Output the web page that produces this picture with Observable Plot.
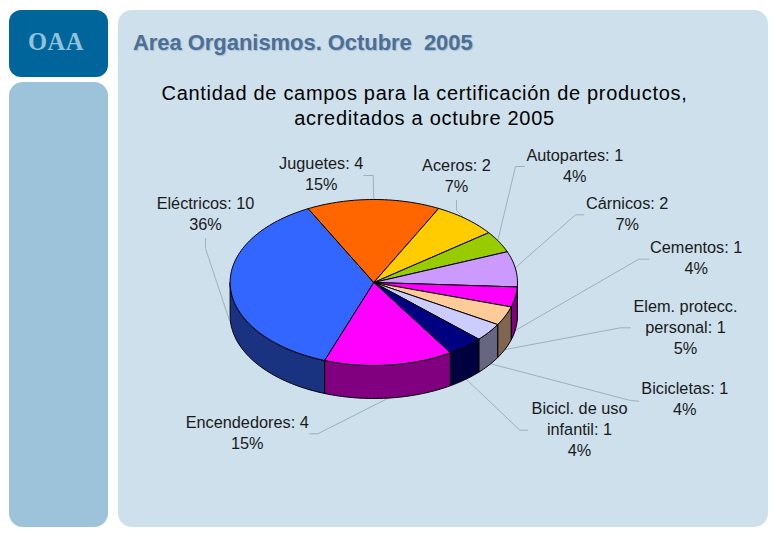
<!DOCTYPE html>
<html>
<head>
<meta charset="utf-8">
<script src="https://cdn.jsdelivr.net/npm/d3@7"></script>
<script src="https://cdn.jsdelivr.net/npm/@observablehq/plot@0.6"></script>
<style>
  html, body { margin: 0; padding: 0; background: #fff; }
  #page { position: relative; width: 780px; height: 540px; overflow: hidden; background: #fff; }
  .panel { position: absolute; }
  #brand { left: 9px; top: 10px; width: 99px; height: 67px; border-radius: 12px; background: #00659a; }
  #side { left: 9px; top: 82px; width: 99px; height: 445px; border-radius: 14px; background: #9cc3d9; }
  #main { left: 118px; top: 10px; width: 650px; height: 517px; border-radius: 14px; background: #cde0ec; }
  .txt { position: absolute; white-space: pre; }
  #oaa { left: 28px; top: 29px; font: bold 24.5px/26px "Liberation Serif", serif; letter-spacing: .5px; color: #8fc3dc; }
  #head { left: 133px; top: 30px; font: bold 22px/26px "Liberation Sans", sans-serif; letter-spacing: -.05px; color: #4c6f98; text-shadow: 1px 1px 1px #a9bccd; }
  #title { left: 118px; width: 613px; top: 81px; text-align: center; font: 20px/25px "Liberation Sans", sans-serif; letter-spacing: .7px; color: #000; }
  #chart { position: absolute; left: 0; top: 0; }
  #chart svg { background: transparent; display: block; }
</style>
</head>
<body>
<div id="page">
  <div class="panel" id="brand"></div>
  <div class="panel" id="side"></div>
  <div class="panel" id="main"></div>
  <div id="chart"></div>
  <div class="txt" id="oaa">OAA</div>
  <div class="txt" id="head">Area Organismos. Octubre  2005</div>
  <div class="txt" id="title">Cantidad de campos para la certificación de productos,
acreditados a octubre 2005</div>
</div>
<script>
// Data, clockwise from the Eléctricos slice
const categories = ["Eléctricos", "Juguetes", "Aceros", "Autopartes", "Cárnicos", "Cementos",
  "Elem. protecc.\npersonal", "Bicicletas", "Bicicl. de uso\ninfantil", "Encendedores"];
const counts = [10, 4, 2, 1, 2, 1, 1, 1, 1, 4];
const percentLabels = [36, 15, 7, 4, 7, 4, 5, 4, 4, 15];
// Share of the circle actually occupied by each slice
const arcShares = [36.9, 15, 7.3, 4.2, 6.9, 3.9, 3.7, 3.5, 4.1, 14.5];

// Styles
const topColors = ["#3366ff", "#ff6600", "#ffcc00", "#99cc00", "#cc99ff", "#ff00ff", "#ffcc99", "#ccccff", "#000080", "#ff00ff"];
const sideColors = ["#1a3380", "#803300", "#806600", "#4d6600", "#664d80", "#800080", "#806650", "#666680", "#000040", "#800080"];

// Layout
const pie = {cx: 373.3, cy: 282, rx: 143.7, ry: 83, depth: 33, startDeg: 200};
const labelCenters = [[205, 212], [320.7, 172], [456, 174], [574.3, 164], [626.7, 212],
  [695.7, 256], [685, 325.5], [684.3, 397], [579, 427.5], [246.7, 431]];
const leaderPaths = [
  [[205, 238], [205, 248], [229, 320]],
  [[363.3, 175], [372.7, 175], [373.3, 200]],
  [[456, 200], [456, 210], [466, 220]],
  [[524, 166], [515, 166], [497.3, 240]],
  [[583.3, 214.3], [575, 214.3], [514, 268]],
  [[648.3, 258.7], [638.3, 258.7], [513, 331]],
  [[630, 327.3], [620, 327.3], [505, 349]],
  [[638.3, 400.7], [630, 400], [489, 363]],
  [[527.3, 429.7], [519.3, 429.7], [465, 378]],
  [[309.3, 433.3], [317.3, 433.3], [391, 396]]
];

// Geometry derived from the shares
const cum = d3.cumsum(arcShares);
const total = cum[cum.length - 1];
const bounds = arcShares.map((_, i) => [
  pie.startDeg + (i ? cum[i - 1] : 0) / total * 360,
  pie.startDeg + cum[i] / total * 360
]);
const px = deg => pie.cx + pie.rx * Math.sin(deg * Math.PI / 180);
const py = deg => pie.cy - pie.ry * Math.cos(deg * Math.PI / 180);
function arcDegs(a, b) {
  const n = Math.max(2, Math.ceil((b - a) / 1.5));
  return d3.range(n + 1).map(k => a + (b - a) * k / n);
}

const tops = [];
bounds.forEach(([a, b], i) => {
  tops.push({id: i, x: pie.cx, y: pie.cy, c: topColors[i]});
  arcDegs(a, b).forEach(d => tops.push({id: i, x: px(d), y: py(d), c: topColors[i]}));
  tops.push({id: i, x: pie.cx, y: pie.cy, c: topColors[i]});
});

// Wall of each slice: only the part of the rim facing the viewer (90°–270°, mod 360)
const sides = [];
bounds.forEach(([a, b], i) => {
  [0, 360].forEach(off => {
    const lo = Math.max(a, 90 + off), hi = Math.min(b, 270 + off);
    if (hi <= lo) return;
    const id = i + "-" + off, degs = arcDegs(lo, hi);
    degs.forEach(d => sides.push({id, x: px(d), y: py(d), c: sideColors[i]}));
    degs.slice().reverse().forEach(d => sides.push({id, x: px(d), y: py(d) + pie.depth, c: sideColors[i]}));
    sides.push({id, x: px(lo), y: py(lo), c: sideColors[i]});
  });
});

const leaders = leaderPaths.flatMap((p, i) => p.map(([x, y]) => ({id: i, x, y})));
const labels = categories.map((name, i) => ({
  x: labelCenters[i][0],
  y: labelCenters[i][1],
  text: `${name}: ${counts[i]}\n${percentLabels[i]}%`
}));

const chart = Plot.plot({
  width: 780,
  height: 540,
  margin: 0,
  x: {domain: [0, 780], range: [0, 780], axis: null},
  y: {domain: [0, 540], range: [0, 540], axis: null},
  color: {type: "identity"},
  style: {background: "transparent"},
  marks: [
    Plot.line(leaders, {x: "x", y: "y", z: "id", stroke: "#9fb0ba", strokeWidth: 1}),
    Plot.line(sides, {x: "x", y: "y", z: "id", fill: "c", stroke: "#000", strokeWidth: 1, strokeLinejoin: "round"}),
    Plot.line(tops, {x: "x", y: "y", z: "id", fill: "c", stroke: "#000", strokeWidth: 1, strokeLinejoin: "round"}),
    Plot.text(labels, {x: "x", y: "y", text: "text", fill: "#1a1a1a", fontSize: 16.3, lineHeight: 1.29,
      fontFamily: "Liberation Sans, Arial, sans-serif", textAnchor: "middle"})
  ]
});
document.getElementById("chart").appendChild(chart);
</script>
</body>
</html>
